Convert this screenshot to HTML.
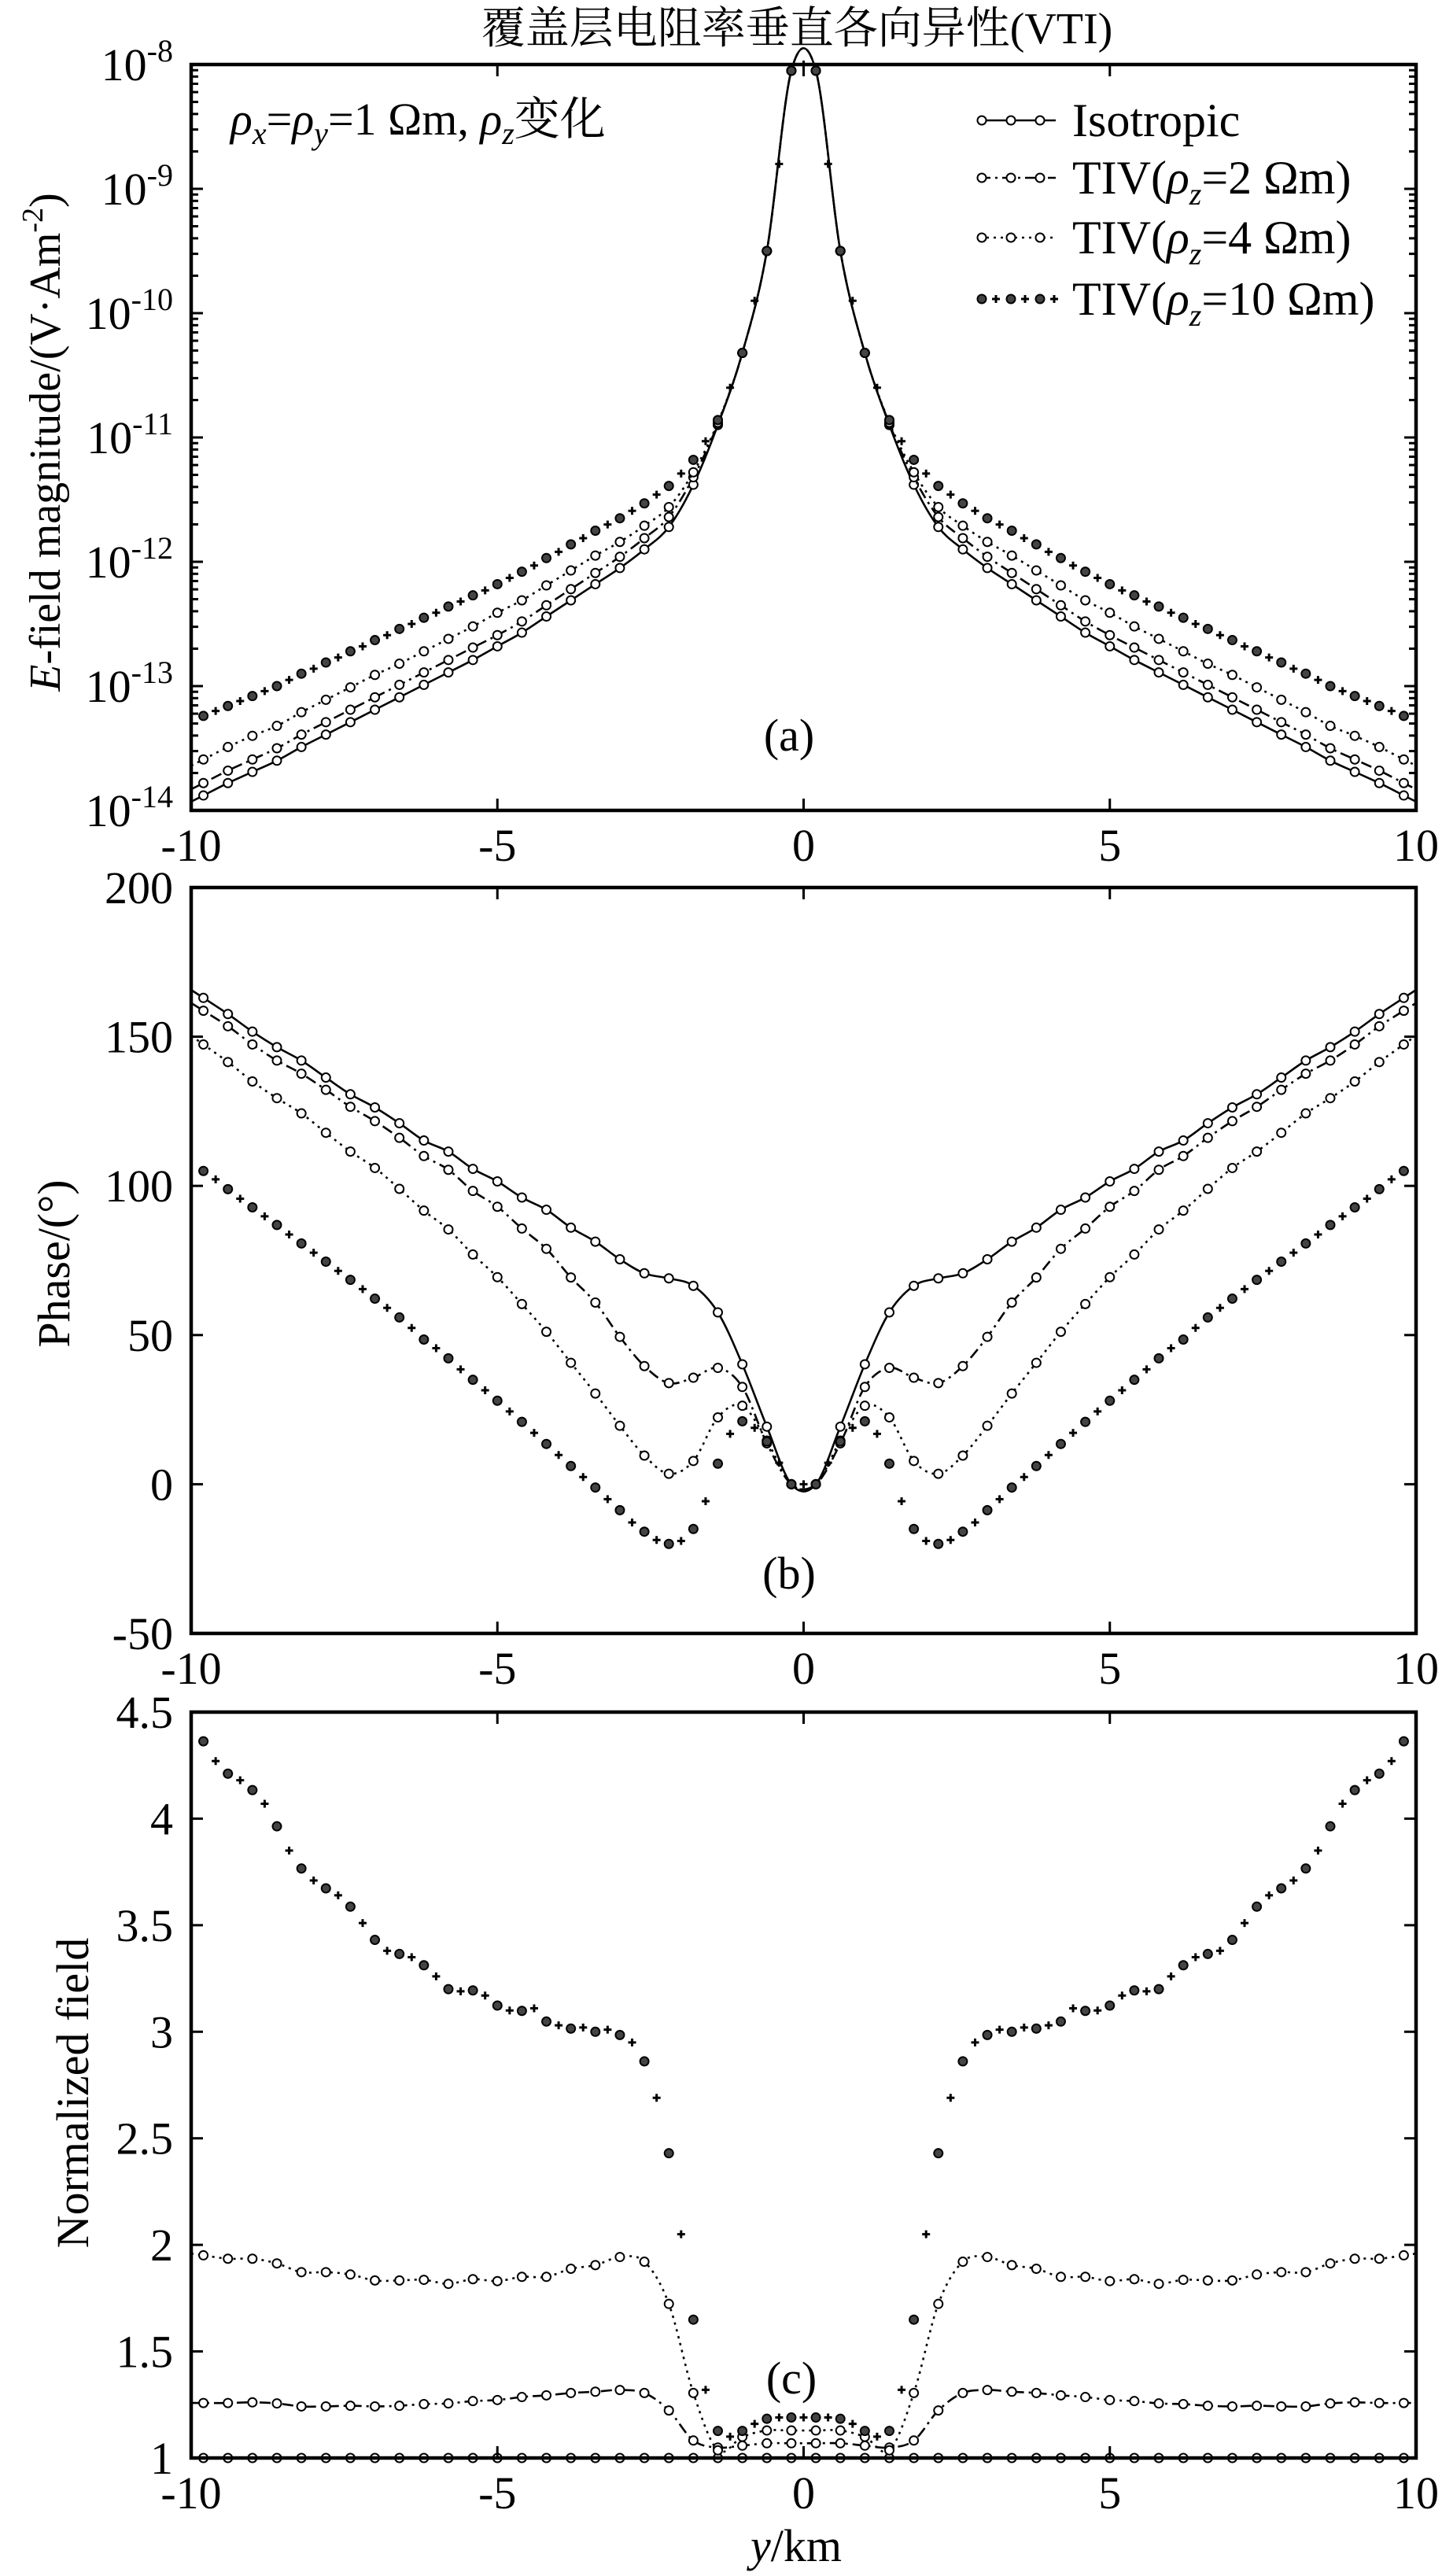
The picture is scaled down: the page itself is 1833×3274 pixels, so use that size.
<!DOCTYPE html>
<html><head><meta charset="utf-8"><title>VTI chart</title>
<style>
html,body{margin:0;padding:0;background:#fff;}
svg text{font-family:"Liberation Serif","Noto Serif CJK SC","Noto Sans CJK SC",serif;fill:#000;}
</style></head>
<body>
<svg id="chart" xmlns="http://www.w3.org/2000/svg" width="1833" height="3269" viewBox="0 0 1833 3269">
<rect x="0" y="0" width="1833" height="3269" fill="#fff"/>
<text x="1013" y="55" font-size="56" text-anchor="middle">覆盖层电阻率垂直各向异性(VTI)</text>
<g id="plots"></g>
</svg>
<script>
// x positions (km)
const xs = [-9.8,-9.4,-9.0,-8.6,-8.2,-7.8,-7.4,-7.0,-6.6,-6.2,-5.8,-5.4,-5.0,-4.6,-4.2,-3.8,-3.4,-3.0,-2.6,-2.2,-1.8,-1.4,-1.0,-0.6,-0.2,0.2,0.6,1.0,1.4,1.8,2.2,2.6,3.0,3.4,3.8,4.2,4.6,5.0,5.4,5.8,6.2,6.6,7.0,7.4,7.8,8.2,8.6,9.0,9.4,9.8];
const xsPlus = [-9.6,-9.2,-8.8,-8.4,-8.0,-7.6,-7.2,-6.8,-6.4,-6.0,-5.6,-5.2,-4.8,-4.4,-4.0,-3.6,-3.2,-2.8,-2.4,-2.0,-1.6,-1.2,-0.8,-0.4,0,0.4,0.8,1.2,1.6,2.0,2.4,2.8,3.2,3.6,4.0,4.4,4.8,5.2,5.6,6.0,6.4,6.8,7.2,7.6,8.0,8.4,8.8,9.2,9.6];
const xTicks = [-10,-5,0,5,10];
const xTickLabels = ["-10","-5","0","5","10"];

// panel (a): log10 of E-field magnitude
const isoA = [-13.88,-13.78,-13.69,-13.60,-13.49,-13.39,-13.29,-13.19,-13.09,-12.99,-12.89,-12.79,-12.68,-12.57,-12.44,-12.31,-12.18,-12.05,-11.90,-11.72,-11.38,-10.90,-10.32,-9.50,-8.05,-8.05,-9.50,-10.32,-10.90,-11.38,-11.72,-11.90,-12.05,-12.18,-12.31,-12.44,-12.57,-12.68,-12.79,-12.89,-12.99,-13.09,-13.19,-13.29,-13.39,-13.49,-13.60,-13.69,-13.78,-13.88];
const tiv2A = [-13.78,-13.68,-13.59,-13.50,-13.39,-13.29,-13.19,-13.09,-12.99,-12.89,-12.79,-12.69,-12.59,-12.48,-12.35,-12.22,-12.09,-11.96,-11.81,-11.64,-11.32,-10.89,-10.32,-9.50,-8.05,-8.05,-9.50,-10.32,-10.89,-11.32,-11.64,-11.81,-11.96,-12.09,-12.22,-12.35,-12.48,-12.59,-12.69,-12.79,-12.89,-12.99,-13.09,-13.19,-13.29,-13.39,-13.50,-13.59,-13.68,-13.78];
const tiv4A = [-13.59,-13.49,-13.40,-13.32,-13.21,-13.11,-13.01,-12.91,-12.82,-12.72,-12.62,-12.52,-12.41,-12.31,-12.19,-12.07,-11.95,-11.84,-11.71,-11.56,-11.28,-10.88,-10.32,-9.50,-8.05,-8.05,-9.50,-10.32,-10.88,-11.28,-11.56,-11.71,-11.84,-11.95,-12.07,-12.19,-12.31,-12.41,-12.52,-12.62,-12.72,-12.82,-12.91,-13.01,-13.11,-13.21,-13.32,-13.40,-13.49,-13.59];
const tiv10A = [-13.24,-13.16,-13.08,-13.00,-12.90,-12.81,-12.72,-12.63,-12.54,-12.45,-12.36,-12.27,-12.18,-12.08,-11.97,-11.86,-11.75,-11.65,-11.53,-11.39,-11.18,-10.86,-10.32,-9.50,-8.05,-8.05,-9.50,-10.32,-10.86,-11.18,-11.39,-11.53,-11.65,-11.75,-11.86,-11.97,-12.08,-12.18,-12.27,-12.36,-12.45,-12.54,-12.63,-12.72,-12.81,-12.90,-13.00,-13.08,-13.16,-13.24];
const tiv10APlus = [-13.20,-13.12,-13.04,-12.95,-12.86,-12.77,-12.68,-12.59,-12.50,-12.41,-12.32,-12.23,-12.13,-12.03,-11.92,-11.81,-11.70,-11.59,-11.46,-11.29,-11.03,-10.60,-9.90,-8.80,-8.00,-8.80,-9.90,-10.60,-11.03,-11.29,-11.46,-11.59,-11.70,-11.81,-11.92,-12.03,-12.13,-12.23,-12.32,-12.41,-12.50,-12.59,-12.68,-12.77,-12.86,-12.95,-13.04,-13.12,-13.20];
const yTicksA = [-8,-9,-10,-11,-12,-13,-14];

// panel (b): phase (deg)
const isoB = [163,157.6,151.7,146.5,142,136.3,130.7,126.3,121,115.2,111.5,105.7,101.5,96.1,92,86,81.3,75.4,70.7,69,66.5,57.6,40.2,19.3,0,0,19.3,40.2,57.6,66.5,69,70.7,75.4,81.3,86,92,96.1,101.5,105.7,111.5,115.2,121,126.3,130.7,136.3,142,146.5,151.7,157.6,163];
const tiv2B = [158.7,153.5,147.4,142,137.6,132.2,126.5,121.7,116.1,110,105.4,98.3,93,85.7,78.9,69.3,60.9,49.4,39.6,33.9,35.7,39,32.6,13.7,0,0,13.7,32.6,39,35.7,33.9,39.6,49.4,60.9,69.3,78.9,85.7,93,98.3,105.4,110,116.1,121.7,126.5,132.2,137.6,142,147.4,153.5,158.7];
const tiv4B = [147.4,141.5,135,129.4,124.3,117.8,111.5,106,99,91.7,85.4,77,69.4,60.4,51.1,40.7,30.4,19.6,9.6,3.5,7.8,22.4,26.3,14.6,0,0,14.6,26.3,22.4,7.8,3.5,9.6,19.6,30.4,40.7,51.1,60.4,69.4,77,85.4,91.7,99,106,111.5,117.8,124.3,129.4,135,141.5,147.4];
const tiv10B = [105,98.9,92.8,86.9,80.7,74.6,68.5,62.2,55.9,48.5,42.2,35,28,20.9,13.5,6.1,-1.1,-8.7,-15.9,-20,-15,6.9,21.1,14.3,0,0,14.3,21.1,6.9,-15,-20,-15.9,-8.7,-1.1,6.1,13.5,20.9,28,35,42.2,48.5,55.9,62.2,68.5,74.6,80.7,86.9,92.8,98.9,105];
const tiv10BPlus = [102.2,95.7,89.8,83.7,77.6,71.5,65.4,59.1,52.4,45.6,38.5,31.5,24.4,17.2,9.8,2.4,-5,-12.8,-18.7,-19,-5.7,16.9,18.9,7.2,0,7.2,18.9,16.9,-5.7,-19,-18.7,-12.8,-5,2.4,9.8,17.2,24.4,31.5,38.5,45.6,52.4,59.1,65.4,71.5,77.6,83.7,89.8,95.7,102.2];
const yTicksB = [200,150,100,50,0,-50];

// panel (c): normalized field
const isoC = [1,1,1,1,1,1,1,1,1,1,1,1,1,1,1,1,1,1,1,1,1,1,1,1,1,1,1,1,1,1,1,1,1,1,1,1,1,1,1,1,1,1,1,1,1,1,1,1,1,1];
const tiv2C = [1.258,1.258,1.261,1.256,1.242,1.242,1.245,1.242,1.245,1.253,1.256,1.267,1.272,1.286,1.294,1.305,1.311,1.319,1.305,1.223,1.082,1.049,1.058,1.069,1.069,1.069,1.069,1.058,1.049,1.082,1.223,1.305,1.319,1.311,1.305,1.294,1.286,1.272,1.267,1.256,1.253,1.245,1.242,1.245,1.242,1.242,1.256,1.261,1.258,1.258];
const tiv4C = [1.951,1.935,1.935,1.913,1.872,1.872,1.861,1.833,1.833,1.836,1.817,1.839,1.830,1.850,1.850,1.888,1.905,1.943,1.921,1.723,1.305,1.036,1.099,1.129,1.129,1.129,1.129,1.099,1.036,1.305,1.723,1.921,1.943,1.905,1.888,1.850,1.850,1.830,1.839,1.817,1.836,1.833,1.833,1.861,1.872,1.872,1.913,1.935,1.935,1.951];
const tiv10C = [4.363,4.211,4.134,3.964,3.766,3.673,3.587,3.431,3.365,3.312,3.200,3.194,3.123,3.098,3.048,3.015,3.0,2.985,2.861,2.43,1.649,1.127,1.127,1.184,1.19,1.19,1.184,1.127,1.127,1.649,2.43,2.861,2.985,3.0,3.015,3.048,3.098,3.123,3.194,3.200,3.312,3.365,3.431,3.587,3.673,3.766,3.964,4.134,4.211,4.363];
const tiv10CPlus = [4.27,4.18,4.07,3.85,3.71,3.64,3.51,3.38,3.35,3.26,3.19,3.17,3.10,3.11,3.03,3.02,3.01,2.95,2.69,2.05,1.32,1.10,1.16,1.19,1.19,1.19,1.16,1.10,1.32,2.05,2.69,2.95,3.01,3.02,3.03,3.11,3.10,3.17,3.19,3.26,3.35,3.38,3.51,3.64,3.71,3.85,4.07,4.18,4.27];
const yTicksC = [4.5,4,3.5,3,2.5,2,1.5,1];
const yTickLabelsC = ["4.5","4","3.5","3","2.5","2","1.5","1"];

const NS = "http://www.w3.org/2000/svg";
const root = document.getElementById('plots');
const L = 243, R = 1800, H = 948;
function mk(tag, attrs, parent){ const e=document.createElementNS(NS,tag); for(const k in attrs) e.setAttribute(k,attrs[k]); (parent||root).appendChild(e); return e; }
function xScale(v){ return L + (v+10)/20*(R-L); }

function smoothPath(pts){
  let d = "M"+pts[0][0].toFixed(1)+","+pts[0][1].toFixed(1);
  for(let i=0;i<pts.length-1;i++){
    const p0=pts[i-1]||pts[i], p1=pts[i], p2=pts[i+1], p3=pts[i+2]||p2;
    const c1x=p1[0]+(p2[0]-p0[0])/6, c1y=p1[1]+(p2[1]-p0[1])/6;
    const c2x=p2[0]-(p3[0]-p1[0])/6, c2y=p2[1]-(p3[1]-p1[1])/6;
    d += " C"+c1x.toFixed(1)+","+c1y.toFixed(1)+" "+c2x.toFixed(1)+","+c2y.toFixed(1)+" "+p2[0].toFixed(1)+","+p2[1].toFixed(1);
  }
  return d;
}

function drawCircleMarker(g,x,y,name){
  const c = mk('circle',{cx:x,cy:y,r:5.5,fill:'#fff',stroke:'#000','stroke-width':2},g);
  
  
}
function drawOplus(g,x,y,name){
  const c = mk('circle',{cx:x,cy:y,r:5.5,fill:'#444',stroke:'#000','stroke-width':2},g);
  
  
}
function drawPlus(g,x,y,name){
  const p = mk('path',{d:`M${x-5},${y}H${x+5}M${x},${y-5}V${y+5}`,stroke:'#000','stroke-width':3},g);
  
  
}

function series(g, vals, yS, top, dash, drawLine, markerFn, name, xsArr){
  const xa = xsArr||xs;
  const sg = mk('g',{},g);
  
  
  const pts = vals.map((v,i)=>[xScale(xa[i]), Math.max(top, yS(v))]);
  if(drawLine){
    const full = [[xScale(-10), Math.max(top,yS(vals[0]+(vals[0]-vals[1])/2))]].concat(pts).concat([[xScale(10), Math.max(top,yS(vals[vals.length-1]+(vals[vals.length-1]-vals[vals.length-2])/2))]]);
    const p = mk('path',{d:smoothPath(full),fill:'none',stroke:'#000','stroke-width':2.6,'stroke-dasharray':dash},sg);
    
    
  }
  pts.forEach((p,i)=>markerFn(sg,p[0],p[1],name+'-point'));
}

function frame(top, prefix, yTicks, yLabels, yS, logMinor, labelFn){
  const g = mk('g',{});
  
  
  const bottom = top+H;
  xTicks.forEach((t,i)=>{
    const x = xScale(t);
    mk('line',{x1:x,y1:bottom,x2:x,y2:bottom-15,stroke:'#000','stroke-width':3},g);
    mk('line',{x1:x,y1:top,x2:x,y2:top+15,stroke:'#000','stroke-width':3},g);
    const tx = mk('text',{x:x,y:bottom+64,'font-size':58,'text-anchor':'middle'},g);
    tx.textContent = xTickLabels[i];
    
    
  });
  yTicks.forEach((t,i)=>{
    const y = yS(t);
    mk('line',{x1:L,y1:y,x2:L+15,y2:y,stroke:'#000','stroke-width':3},g);
    mk('line',{x1:R,y1:y,x2:R-15,y2:y,stroke:'#000','stroke-width':3},g);
    const tx = mk('text',{x:220,y:y+20,'font-size':58,'text-anchor':'end'},g);
    labelFn(tx,i,t);
    
    
  });
  if(logMinor){
    for(let d=-14; d<-8; d++){
      for(let k=2;k<=9;k++){
        const y = yS(d+Math.log10(k));
        mk('line',{x1:L,y1:y,x2:L+9,y2:y,stroke:'#000','stroke-width':3},g);
        mk('line',{x1:R,y1:y,x2:R-9,y2:y,stroke:'#000','stroke-width':3},g);
      }
    }
  }
  const r = mk('rect',{x:L,y:top,width:R-L,height:H,fill:'none',stroke:'#000','stroke-width':4.5},g);
  
  
}

// ---- panel a ----
const topA = 82;
const yA = v => topA + (-8 - v)/6*H;
const gA = mk('g',{});  
series(gA, isoA, yA, topA, 'none', true, drawCircleMarker, 'isotropic-a');
series(gA, tiv2A, yA, topA, '14 6 3 6', true, drawCircleMarker, 'tiv2-a');
series(gA, tiv4A, yA, topA, '3 6', true, drawCircleMarker, 'tiv4-a');
series(gA, tiv10A, yA, topA, 'none', false, drawOplus, 'tiv10-a');
series(gA, tiv10APlus, yA, topA, 'none', false, drawPlus, 'tiv10-a-plus', xsPlus);
frame(topA,'panel-a',yTicksA,null,yA,true,(tx,i,t)=>{
  tx.textContent = '10';
  const s = document.createElementNS(NS,'tspan'); s.setAttribute('dy','-24'); s.setAttribute('font-size','40'); s.textContent = String(t); tx.appendChild(s);
});

// ---- panel b ----
const topB = 1128;
const yB = v => topB + (200 - v)/250*H;
const gB = mk('g',{});  
series(gB, isoB, yB, topB, 'none', true, drawCircleMarker, 'isotropic-b');
series(gB, tiv2B, yB, topB, '14 6 3 6', true, drawCircleMarker, 'tiv2-b');
series(gB, tiv4B, yB, topB, '3 6', true, drawCircleMarker, 'tiv4-b');
series(gB, tiv10B, yB, topB, 'none', false, drawOplus, 'tiv10-b');
series(gB, tiv10BPlus, yB, topB, 'none', false, drawPlus, 'tiv10-b-plus', xsPlus);
frame(topB,'panel-b',yTicksB,null,yB,false,(tx,i,t)=>{ tx.textContent = String(t); });

// ---- panel c ----
const topC = 2176;
const yC = v => topC + (4.5 - v)/3.5*H;
const gC = mk('g',{});  
series(gC, isoC, yC, topC, 'none', true, drawCircleMarker, 'isotropic-c');
series(gC, tiv2C, yC, topC, '14 6 3 6', true, drawCircleMarker, 'tiv2-c');
series(gC, tiv4C, yC, topC, '3 6', true, drawCircleMarker, 'tiv4-c');
series(gC, tiv10C, yC, topC, 'none', false, drawOplus, 'tiv10-c');
series(gC, tiv10CPlus, yC, topC, 'none', false, drawPlus, 'tiv10-c-plus', xsPlus);
frame(topC,'panel-c',yTicksC,null,yC,false,(tx,i,t)=>{ tx.textContent = yTickLabelsC[i]; });

// ---- legend ----
const lg = mk('g',{});  
const legendRows = [
  {y:153, dash:'none', line:true, label:['Isotropic'], m:'c'},
  {y:226, dash:'14 6 3 6', line:true, label:['TIV(','ρ','z','=2 Ωm)'], m:'c'},
  {y:302, dash:'3 6', line:true, label:['TIV(','ρ','z','=4 Ωm)'], m:'c'},
  {y:380, dash:'none', line:false, label:['TIV(','ρ','z','=10 Ωm)'], m:'p'}
];
legendRows.forEach((row,ri)=>{
  const eg = mk('g',{},lg);
  
  
  if(row.line) mk('line',{x1:1245,y1:row.y,x2:1342,y2:row.y,stroke:'#000','stroke-width':2.6,'stroke-dasharray':row.dash},eg);
  if(row.m==='c'){ [1248,1285,1322].forEach(x=>drawCircleMarker(eg,x,row.y,'legend-marker')); }
  else { drawOplus(eg,1248,row.y,'legend-marker'); drawPlus(eg,1266,row.y,'legend-marker'); drawOplus(eg,1285,row.y,'legend-marker'); drawPlus(eg,1303,row.y,'legend-marker'); drawOplus(eg,1322,row.y,'legend-marker'); drawPlus(eg,1340,row.y,'legend-marker'); }
  const t = mk('text',{x:1363,y:row.y+20,'font-size':60},eg);
  if(row.label.length===1){ t.textContent = row.label[0]; }
  else {
    t.appendChild(document.createTextNode(row.label[0]));
    const a = document.createElementNS(NS,'tspan'); a.setAttribute('font-style','italic'); a.textContent=row.label[1]; t.appendChild(a);
    const b = document.createElementNS(NS,'tspan'); b.setAttribute('font-style','italic'); b.setAttribute('font-size','40'); b.setAttribute('dy','14'); b.textContent=row.label[2]; t.appendChild(b);
    const c = document.createElementNS(NS,'tspan'); c.setAttribute('dy','-14'); c.textContent=row.label[3]; t.appendChild(c);
  }
  
  
});
</script>
<svg width="0" height="0" style="position:absolute;left:0;top:0"></svg>
<div style="position:absolute;left:0;top:0;width:1833px;height:3269px;pointer-events:none">
<svg width="1833" height="3269" xmlns="http://www.w3.org/2000/svg" style="position:absolute;left:0;top:0">
<g font-family="Liberation Serif, Noto Serif CJK SC, Noto Sans CJK SC, serif">
<text x="293" y="171" font-size="58"><tspan font-style="italic">ρ</tspan><tspan font-style="italic" font-size="40" dy="12">x</tspan><tspan dy="-12">=</tspan><tspan font-style="italic">ρ</tspan><tspan font-style="italic" font-size="40" dy="12">y</tspan><tspan dy="-12">=1 Ωm, </tspan><tspan font-style="italic">ρ</tspan><tspan font-style="italic" font-size="40" dy="12">z</tspan><tspan dy="-12" font-family="Noto Serif CJK SC, Noto Sans CJK SC, serif">变化</tspan></text>
<text x="1003" y="954" font-size="58" text-anchor="middle">(a)</text>
<text x="1003" y="2019" font-size="58" text-anchor="middle">(b)</text>
<text x="1006" y="3042" font-size="58" text-anchor="middle">(c)</text>
<text transform="translate(76,562) rotate(-90)" font-size="56" text-anchor="middle"><tspan font-style="italic">E</tspan>-field magnitude/(V·Am<tspan font-size="38" dy="-22">-2</tspan><tspan dy="22">)</tspan></text>
<text transform="translate(88,1606) rotate(-90)" font-size="58" text-anchor="middle">Phase/(°)</text>
<text transform="translate(112,2660) rotate(-90)" font-size="58" text-anchor="middle">Normalized field</text>
<text x="1012" y="3255" font-size="58" text-anchor="middle"><tspan font-style="italic">y</tspan>/km</text>
</g>
</svg>
</div>
</body></html>
